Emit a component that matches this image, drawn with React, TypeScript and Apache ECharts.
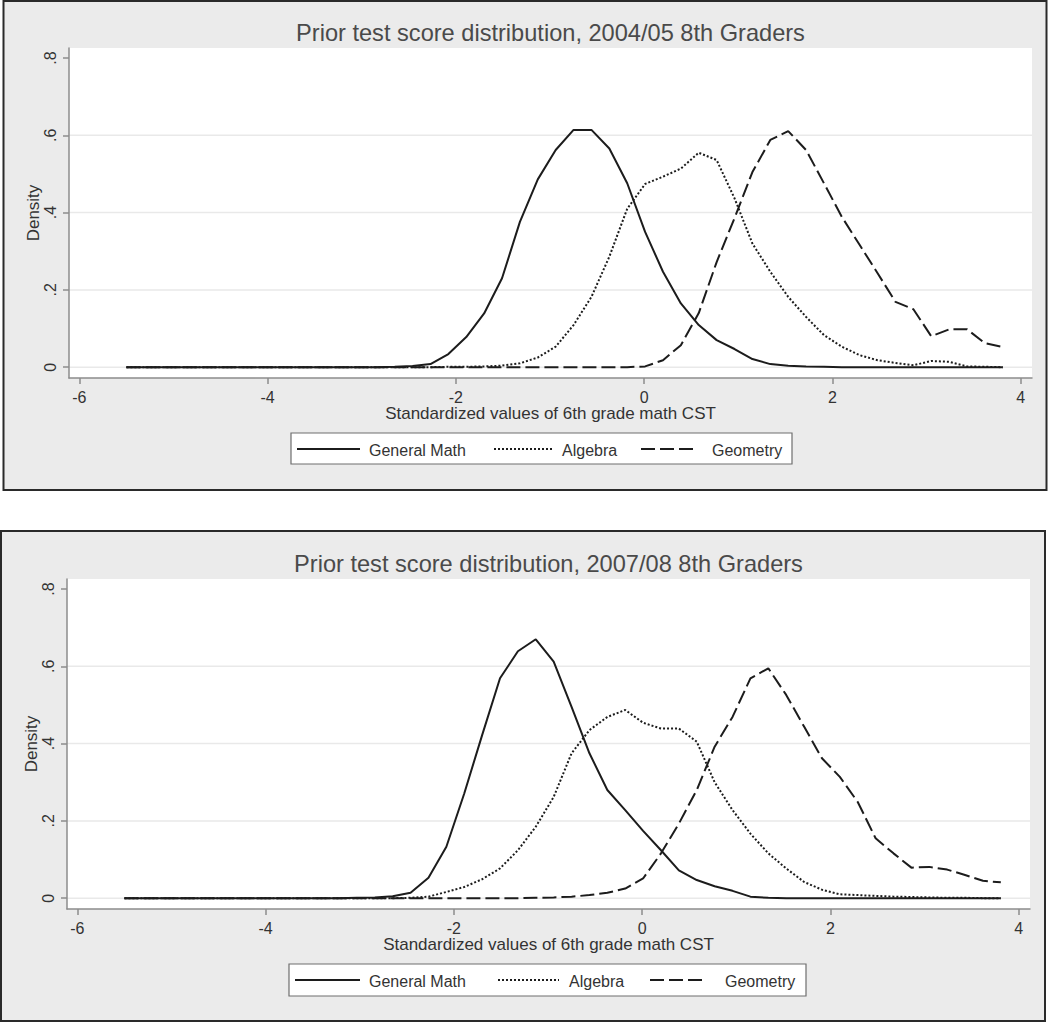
import React, { useEffect, useRef } from "react";
import * as echarts from "echarts";

// ---------- data ----------
const xGrid = [
  -5.5, -5.31, -5.12, -4.93, -4.74, -4.55, -4.36, -4.17, -3.98, -3.79,
  -3.6, -3.41, -3.22, -3.03, -2.84, -2.65, -2.46, -2.27, -2.08, -1.89,
  -1.7, -1.51, -1.32, -1.13, -0.94, -0.75, -0.56, -0.37, -0.18, 0.01,
  0.2, 0.39, 0.58, 0.77, 0.96, 1.15, 1.34, 1.53, 1.72, 1.91,
  2.1, 2.29, 2.48, 2.67, 2.86, 3.05, 3.24, 3.43, 3.62, 3.81,
];

// 2004/05 panel
const generalMath0405 = [
  0, 0, 0, 0, 0, 0, 0, 0, 0, 0,
  0, 0, 0, 0, 0, 0.001, 0.003, 0.008, 0.034, 0.078,
  0.139, 0.23, 0.376, 0.486, 0.562, 0.614, 0.614, 0.566, 0.476, 0.35,
  0.247, 0.165, 0.109, 0.07, 0.047, 0.021, 0.008, 0.004, 0.002, 0.001,
  0, 0, 0, 0, 0, 0, 0, 0, 0, 0,
];
const algebra0405 = [
  0, 0, 0, 0, 0, 0, 0, 0, 0, 0,
  0, 0, 0, 0, 0, 0, 0, 0, 0.001, 0.001,
  0.002, 0.004, 0.01, 0.025, 0.053, 0.109, 0.182, 0.286, 0.41, 0.474,
  0.493, 0.514, 0.555, 0.536, 0.437, 0.32, 0.247, 0.182, 0.13, 0.083,
  0.053, 0.031, 0.018, 0.011, 0.005, 0.016, 0.014, 0.002, 0.001, 0,
];
const geometry0405 = [
  0, 0, 0, 0, 0, 0, 0, 0, 0, 0,
  0, 0, 0, 0, 0, 0, 0, 0, 0, 0,
  0, 0, 0, 0, 0, 0, 0, 0, 0, 0.002,
  0.018, 0.057, 0.14, 0.272, 0.386, 0.505, 0.588, 0.611, 0.562, 0.476,
  0.389, 0.316, 0.243, 0.169, 0.15, 0.08, 0.098, 0.098, 0.062, 0.052,
];

// 2007/08 panel
const generalMath0708 = [
  0, 0, 0, 0, 0, 0, 0, 0, 0, 0,
  0, 0, 0, 0.001, 0.002, 0.005, 0.014, 0.053, 0.133, 0.271,
  0.422, 0.569, 0.639, 0.67, 0.612, 0.495, 0.375, 0.28, 0.228, 0.174,
  0.124, 0.072, 0.047, 0.031, 0.019, 0.004, 0.001, 0, 0, 0,
  0, 0, 0, 0, 0, 0, 0, 0, 0, 0,
];
const algebra0708 = [
  0, 0, 0, 0, 0, 0, 0, 0, 0, 0,
  0, 0, 0, 0, 0, 0, 0.001, 0.004, 0.016, 0.029,
  0.049, 0.077, 0.124, 0.185, 0.262, 0.375, 0.435, 0.469, 0.487, 0.454,
  0.439, 0.439, 0.405, 0.3, 0.228, 0.167, 0.116, 0.077, 0.042, 0.022,
  0.01, 0.008, 0.006, 0.004, 0.003, 0.002, 0.001, 0.001, 0, 0,
];
const geometry0708 = [
  0, 0, 0, 0, 0, 0, 0, 0, 0, 0,
  0, 0, 0, 0, 0, 0, 0, 0, 0, 0,
  0, 0, 0, 0.001, 0.002, 0.004, 0.008, 0.014, 0.025, 0.051,
  0.116, 0.193, 0.28, 0.392, 0.469, 0.569, 0.595, 0.526, 0.444, 0.362,
  0.314, 0.249, 0.155, 0.116, 0.079, 0.081, 0.074, 0.06, 0.045, 0.041,
];

const xTicks = [-6, -4, -2, 0, 2, 4];
const yTicks = [0, 0.2, 0.4, 0.6, 0.8];
const yGridValues = [0, 0.2, 0.4, 0.6];
const panelTitles = [
  "Prior test score distribution, 2004/05 8th Graders",
  "Prior test score distribution, 2007/08 8th Graders",
];
const seriesNames = ["General Math", "Algebra", "Geometry"];
const xAxisTitle = "Standardized values of 6th grade math CST";
const yAxisTitle = "Density";

const panelData = [
  [generalMath0405, algebra0405, geometry0405],
  [generalMath0708, algebra0708, geometry0708],
];

// ---------- layout / style ----------
const X_MIN = -6.11;
const X_MAX = 4.12;
const Y_MIN = -0.028;
const Y_MAX = 0.826;
const FONT = "'Liberation Sans', Arial, Helvetica, sans-serif";
const INK = "#1c1c1c";

const lineStyles = [
  { color: INK, width: 2, type: "solid" as any },
  { color: INK, width: 2, type: [2, 2] as any },
  { color: INK, width: 2, type: [14, 5] as any },
];

const panels = [
  {
    box: { x: 3.5, y: 1, w: 1043, h: 489 },
    grid: { left: 69, top: 48, width: 963, height: 330 },
    titleY: 33,
    xNameY: 413,
    yNameX: 33,
    legend: {
      x: 291, y: 433, w: 501, h: 31, lineY: 449, textY: 450,
      items: [
        { x1: 297, x2: 360, tx: 369 },
        { x1: 494, x2: 553, tx: 562 },
        { x1: 641, x2: 693, tx: 712 },
      ],
    },
  },
  {
    box: { x: 1, y: 531, w: 1044, h: 490 },
    grid: { left: 67, top: 579, width: 963, height: 330 },
    titleY: 564,
    xNameY: 944,
    yNameX: 31,
    legend: {
      x: 289, y: 964, w: 517, h: 32, lineY: 980, textY: 981,
      items: [
        { x1: 295, x2: 360, tx: 369 },
        { x1: 498, x2: 559, tx: 569 },
        { x1: 650, x2: 702, tx: 725 },
      ],
    },
  },
];

function fmtY(v: number) {
  if (v === 0) return "0";
  return String(v).replace(/^0\./, ".");
}

export default function App() {
  const ref = useRef<HTMLDivElement>(null);

  useEffect(() => {
    if (!ref.current) return;
    const chart = echarts.init(ref.current, undefined, { renderer: "svg" });

    const grids: any[] = [];
    const xAxes: any[] = [];
    const yAxes: any[] = [];
    const series: any[] = [];
    const graphics: any[] = [];

    panels.forEach((p, idx) => {
      grids.push({ ...p.grid, containLabel: false, show: false });
      xAxes.push({
        type: "value",
        gridIndex: idx,
        min: X_MIN,
        max: X_MAX,
        axisLine: { show: true, onZero: false, lineStyle: { color: "#8c8c8c", width: 1.5 } },
        axisTick: { show: true, length: 6, customValues: xTicks, lineStyle: { color: "#8c8c8c", width: 1.5 } },
        axisLabel: {
          show: true,
          customValues: xTicks,
          margin: 11,
          color: "#333",
          fontSize: 16,
          fontFamily: FONT,
          formatter: (v: number) => String(v),
        },
        splitLine: { show: false },
        z: 3,
      });
      yAxes.push({
        type: "value",
        gridIndex: idx,
        min: Y_MIN,
        max: Y_MAX,
        axisLine: { show: true, onZero: false, lineStyle: { color: "#8c8c8c", width: 1.5 } },
        axisTick: { show: true, length: 6, customValues: yTicks, lineStyle: { color: "#8c8c8c", width: 1.5 } },
        axisLabel: {
          show: true,
          customValues: yTicks,
          rotate: 90,
          margin: 11,
          color: "#333",
          fontSize: 16,
          fontFamily: FONT,
          formatter: (v: number) => fmtY(v),
        },
        splitLine: { show: false },
        z: 3,
      });

      // gridlines
      yGridValues.forEach((v) => {
        series.push({
          type: "line",
          xAxisIndex: idx,
          yAxisIndex: idx,
          data: [[X_MIN, v], [X_MAX, v]],
          symbol: "none",
          silent: true,
          lineStyle: { color: "#e9e9e9", width: 1.5 },
          z: 1,
        });
      });

      panelData[idx].forEach((vals, si) => {
        series.push({
          type: "line",
          name: seriesNames[si],
          xAxisIndex: idx,
          yAxisIndex: idx,
          data: xGrid.map((x, i) => [x, vals[i]]),
          symbol: "none",
          showSymbol: false,
          silent: true,
          lineStyle: lineStyles[si],
          z: 5,
        });
      });

      const cx = p.grid.left + p.grid.width / 2;
      const cy = p.grid.top + p.grid.height / 2;

      graphics.push({
        type: "rect",
        z: -10,
        shape: { x: p.box.x, y: p.box.y, width: p.box.w, height: p.box.h },
        style: { fill: "#ebebeb", stroke: "#2a2a2a", lineWidth: 2 },
        silent: true,
      });
      graphics.push({
        type: "rect",
        z: -9,
        shape: { x: p.grid.left, y: p.grid.top, width: p.grid.width, height: p.grid.height },
        style: { fill: "#ffffff" },
        silent: true,
      });
      graphics.push({
        type: "text",
        z: 10,
        x: cx,
        y: p.titleY,
        style: {
          text: panelTitles[idx],
          fill: "#4a4a4a",
          font: `23.6px ${FONT}`,
          align: "center",
          verticalAlign: "middle",
        },
      });
      graphics.push({
        type: "text",
        z: 10,
        x: cx,
        y: p.xNameY,
        style: {
          text: xAxisTitle,
          fill: "#333",
          font: `17px ${FONT}`,
          align: "center",
          verticalAlign: "middle",
        },
      });
      graphics.push({
        type: "text",
        z: 10,
        x: p.yNameX,
        y: cy,
        rotation: Math.PI / 2,
        style: {
          text: yAxisTitle,
          fill: "#333",
          font: `17px ${FONT}`,
          align: "center",
          verticalAlign: "middle",
        },
      });
      const lg = p.legend;
      graphics.push({
        type: "rect",
        z: 8,
        shape: { x: lg.x, y: lg.y, width: lg.w, height: lg.h },
        style: { fill: "#ffffff", stroke: "#6e6e6e", lineWidth: 1.2 },
        silent: true,
      });
      lg.items.forEach((it, si) => {
        const ls = lineStyles[si];
        graphics.push({
          type: "line",
          z: 9,
          shape: { x1: it.x1, y1: lg.lineY, x2: it.x2, y2: lg.lineY },
          style: {
            stroke: ls.color,
            lineWidth: ls.width,
            lineDash: Array.isArray(ls.type) ? ls.type : null,
          },
          silent: true,
        });
        graphics.push({
          type: "text",
          z: 9,
          x: it.tx,
          y: lg.textY,
          style: {
            text: seriesNames[si],
            fill: "#333",
            font: `16px ${FONT}`,
            align: "left",
            verticalAlign: "middle",
          },
        });
      });
    });

    chart.setOption({
      animation: false,
      backgroundColor: "#ffffff",
      textStyle: { fontFamily: FONT },
      grid: grids,
      xAxis: xAxes,
      yAxis: yAxes,
      series,
      graphic: { elements: graphics },
    });

    return () => chart.dispose();
  }, []);

  return (
    <div
      ref={ref}
      style={{ position: "absolute", left: 0, top: 0, width: 1050, height: 1023 }}
    />
  );
}
